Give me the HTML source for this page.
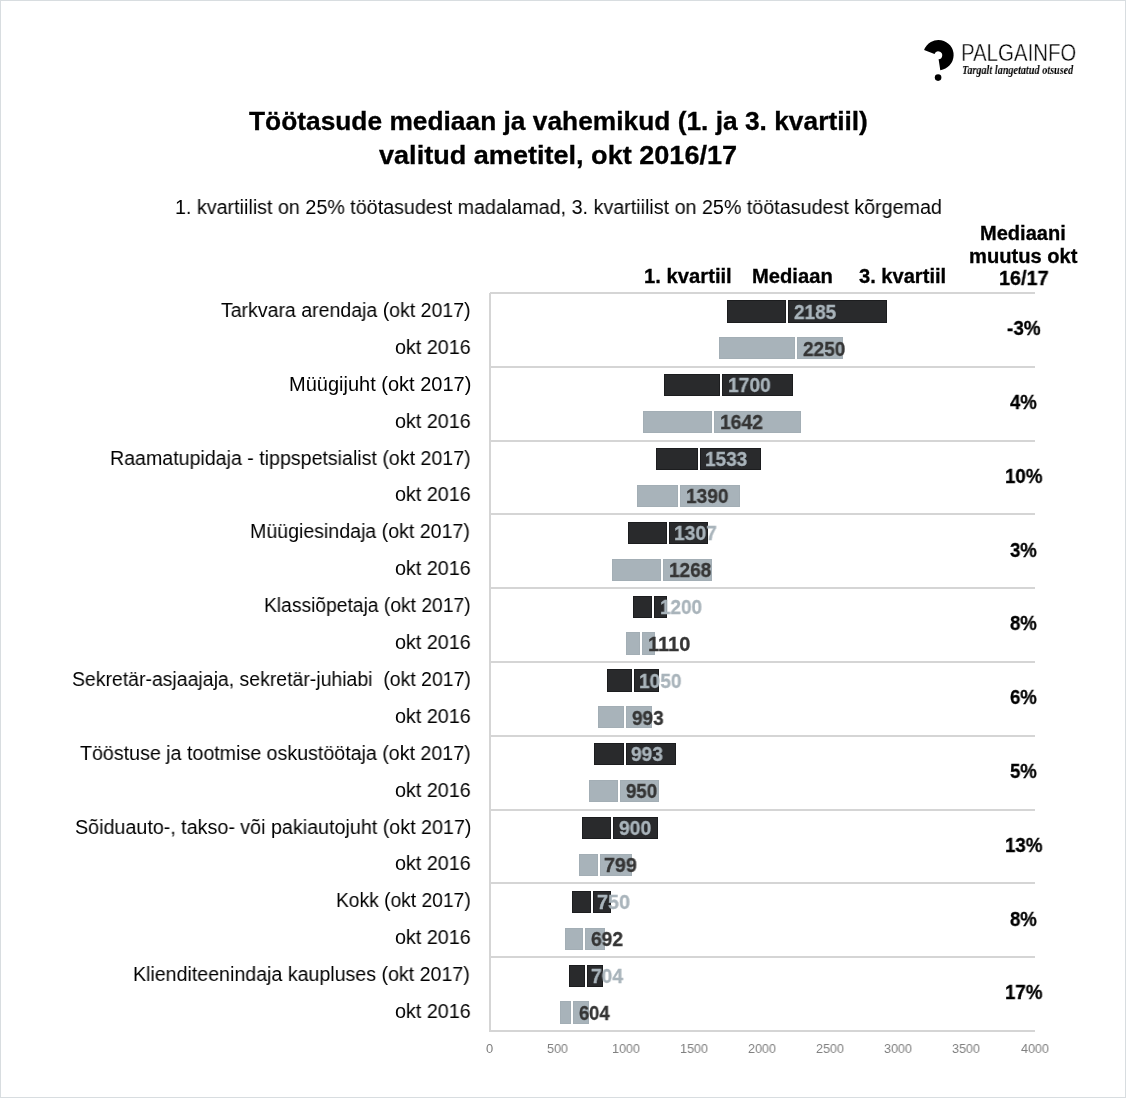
<!DOCTYPE html><html><head><meta charset="utf-8"><style>
html,body{margin:0;padding:0;background:#fff}
#pg{position:relative;width:1126px;height:1098px;overflow:hidden;background:#fff;font-family:'Liberation Sans', sans-serif;color:#000}
.t{position:absolute;white-space:pre;line-height:1;transform-origin:0 0;will-change:transform}
</style></head><body><div id="pg">
<div style="position:absolute;left:0;top:0;width:1124px;height:1096px;border:1px solid #d8dde0"></div>
<svg style="position:absolute;left:915px;top:35px" width="50" height="50" viewBox="0 0 50 50"><path d="M9.1 15.0 A15.2 15.2 0 1 1 25.3 35.2 L23.6 24.3 A4.0 4.0 0 1 0 19.5 18.9 Z" fill="#000"/><circle cx="23.1" cy="42.6" r="3.3" fill="#000"/></svg>
<svg style="position:absolute;left:0;top:0" width="1126" height="1098" viewBox="0 0 1126 1098" shape-rendering="crispEdges">
<rect x="490" y="292" width="545" height="2" fill="#d5d5d5"/>
<rect x="490" y="366" width="545" height="2" fill="#d5d5d5"/>
<rect x="490" y="440" width="545" height="2" fill="#d5d5d5"/>
<rect x="490" y="513" width="545" height="2" fill="#d5d5d5"/>
<rect x="490" y="587" width="545" height="2" fill="#d5d5d5"/>
<rect x="490" y="661" width="545" height="2" fill="#d5d5d5"/>
<rect x="490" y="735" width="545" height="2" fill="#d5d5d5"/>
<rect x="490" y="809" width="545" height="2" fill="#d5d5d5"/>
<rect x="490" y="882" width="545" height="2" fill="#d5d5d5"/>
<rect x="490" y="956" width="545" height="2" fill="#d5d5d5"/>
<rect x="490" y="1030" width="545" height="2" fill="#d5d5d5"/>
<rect x="489" y="293" width="2" height="739" fill="#d5d5d5"/>
<rect x="727" y="300" width="59" height="23" fill="#1c1d1f"/>
<rect x="728" y="301" width="57" height="21" fill="#292a2c"/>
<rect x="788" y="300" width="99" height="23" fill="#1c1d1f"/>
<rect x="789" y="301" width="97" height="21" fill="#292a2c"/>
<rect x="719" y="337" width="76" height="22" fill="#a3aeb5"/>
<rect x="720" y="338" width="74" height="20" fill="#a8b3ba"/>
<rect x="797" y="337" width="46" height="22" fill="#a3aeb5"/>
<rect x="798" y="338" width="44" height="20" fill="#a8b3ba"/>
<rect x="664" y="374" width="56" height="22" fill="#1c1d1f"/>
<rect x="665" y="375" width="54" height="20" fill="#292a2c"/>
<rect x="722" y="374" width="71" height="22" fill="#1c1d1f"/>
<rect x="723" y="375" width="69" height="20" fill="#292a2c"/>
<rect x="643" y="411" width="69" height="22" fill="#a3aeb5"/>
<rect x="644" y="412" width="67" height="20" fill="#a8b3ba"/>
<rect x="714" y="411" width="87" height="22" fill="#a3aeb5"/>
<rect x="715" y="412" width="85" height="20" fill="#a8b3ba"/>
<rect x="656" y="448" width="42" height="22" fill="#1c1d1f"/>
<rect x="657" y="449" width="40" height="20" fill="#292a2c"/>
<rect x="700" y="448" width="61" height="22" fill="#1c1d1f"/>
<rect x="701" y="449" width="59" height="20" fill="#292a2c"/>
<rect x="637" y="485" width="41" height="22" fill="#a3aeb5"/>
<rect x="638" y="486" width="39" height="20" fill="#a8b3ba"/>
<rect x="680" y="485" width="60" height="22" fill="#a3aeb5"/>
<rect x="681" y="486" width="58" height="20" fill="#a8b3ba"/>
<rect x="628" y="522" width="39" height="22" fill="#1c1d1f"/>
<rect x="629" y="523" width="37" height="20" fill="#292a2c"/>
<rect x="669" y="522" width="39" height="22" fill="#1c1d1f"/>
<rect x="670" y="523" width="37" height="20" fill="#292a2c"/>
<rect x="612" y="559" width="49" height="22" fill="#a3aeb5"/>
<rect x="613" y="560" width="47" height="20" fill="#a8b3ba"/>
<rect x="663" y="559" width="49" height="22" fill="#a3aeb5"/>
<rect x="664" y="560" width="47" height="20" fill="#a8b3ba"/>
<rect x="633" y="596" width="19" height="22" fill="#1c1d1f"/>
<rect x="634" y="597" width="17" height="20" fill="#292a2c"/>
<rect x="654" y="596" width="13" height="22" fill="#1c1d1f"/>
<rect x="655" y="597" width="11" height="20" fill="#292a2c"/>
<rect x="626" y="632" width="14" height="23" fill="#a3aeb5"/>
<rect x="627" y="633" width="12" height="21" fill="#a8b3ba"/>
<rect x="642" y="632" width="13" height="23" fill="#a3aeb5"/>
<rect x="643" y="633" width="11" height="21" fill="#a8b3ba"/>
<rect x="607" y="669" width="25" height="23" fill="#1c1d1f"/>
<rect x="608" y="670" width="23" height="21" fill="#292a2c"/>
<rect x="634" y="669" width="25" height="23" fill="#1c1d1f"/>
<rect x="635" y="670" width="23" height="21" fill="#292a2c"/>
<rect x="598" y="706" width="26" height="22" fill="#a3aeb5"/>
<rect x="599" y="707" width="24" height="20" fill="#a8b3ba"/>
<rect x="626" y="706" width="26" height="22" fill="#a3aeb5"/>
<rect x="627" y="707" width="24" height="20" fill="#a8b3ba"/>
<rect x="594" y="743" width="30" height="22" fill="#1c1d1f"/>
<rect x="595" y="744" width="28" height="20" fill="#292a2c"/>
<rect x="626" y="743" width="50" height="22" fill="#1c1d1f"/>
<rect x="627" y="744" width="48" height="20" fill="#292a2c"/>
<rect x="589" y="780" width="29" height="22" fill="#a3aeb5"/>
<rect x="590" y="781" width="27" height="20" fill="#a8b3ba"/>
<rect x="620" y="780" width="39" height="22" fill="#a3aeb5"/>
<rect x="621" y="781" width="37" height="20" fill="#a8b3ba"/>
<rect x="582" y="817" width="29" height="22" fill="#1c1d1f"/>
<rect x="583" y="818" width="27" height="20" fill="#292a2c"/>
<rect x="613" y="817" width="45" height="22" fill="#1c1d1f"/>
<rect x="614" y="818" width="43" height="20" fill="#292a2c"/>
<rect x="579" y="854" width="19" height="22" fill="#a3aeb5"/>
<rect x="580" y="855" width="17" height="20" fill="#a8b3ba"/>
<rect x="600" y="854" width="32" height="22" fill="#a3aeb5"/>
<rect x="601" y="855" width="30" height="20" fill="#a8b3ba"/>
<rect x="572" y="891" width="19" height="22" fill="#1c1d1f"/>
<rect x="573" y="892" width="17" height="20" fill="#292a2c"/>
<rect x="593" y="891" width="18" height="22" fill="#1c1d1f"/>
<rect x="594" y="892" width="16" height="20" fill="#292a2c"/>
<rect x="565" y="928" width="18" height="22" fill="#a3aeb5"/>
<rect x="566" y="929" width="16" height="20" fill="#a8b3ba"/>
<rect x="585" y="928" width="20" height="22" fill="#a3aeb5"/>
<rect x="586" y="929" width="18" height="20" fill="#a8b3ba"/>
<rect x="569" y="965" width="16" height="22" fill="#1c1d1f"/>
<rect x="570" y="966" width="14" height="20" fill="#292a2c"/>
<rect x="587" y="965" width="16" height="22" fill="#1c1d1f"/>
<rect x="588" y="966" width="14" height="20" fill="#292a2c"/>
<rect x="560" y="1001" width="11" height="23" fill="#a3aeb5"/>
<rect x="561" y="1002" width="9" height="21" fill="#a8b3ba"/>
<rect x="573" y="1001" width="16" height="23" fill="#a3aeb5"/>
<rect x="574" y="1002" width="14" height="21" fill="#a8b3ba"/>
</svg>
<div class="t" style="left:961.43px;top:41px;color:#000;font-size:24.5px;font-weight:400;-webkit-text-stroke:0.4px #fff;transform:scaleX(0.8333);">PALGAINFO</div>
<div class="t" style="left:962.08px;top:64px;color:#000;font-size:12.5px;font-weight:700;font-family:'Liberation Serif', serif;font-style:italic;transform:scaleX(0.8162);">Targalt langetatud otsused</div>
<div class="t" style="left:248.70px;top:109px;color:#000;font-size:25.9px;font-weight:700;-webkit-text-stroke:0.3px currentColor;transform:scaleX(1.0168);">Töötasude mediaan ja vahemikud (1. ja 3. kvartiil)</div>
<div class="t" style="left:379.00px;top:143px;color:#000;font-size:25.9px;font-weight:700;-webkit-text-stroke:0.3px currentColor;transform:scaleX(1.0456);">valitud ametitel, okt 2016/17</div>
<div class="t" style="left:174.76px;top:197px;color:#000;font-size:20.0px;font-weight:400;transform:scaleX(0.9855);">1. kvartiilist on 25% töötasudest madalamad, 3. kvartiilist on 25% töötasudest kõrgemad</div>
<div class="t" style="left:644.09px;top:266px;color:#000;font-size:20.0px;font-weight:700;-webkit-text-stroke:0.3px currentColor;transform:scaleX(1.0118);">1. kvartiil</div>
<div class="t" style="left:752.49px;top:266px;color:#000;font-size:20.0px;font-weight:700;-webkit-text-stroke:0.3px currentColor;transform:scaleX(1.0090);">Mediaan</div>
<div class="t" style="left:858.50px;top:266px;color:#000;font-size:20.0px;font-weight:700;-webkit-text-stroke:0.3px currentColor;transform:scaleX(1.0047);">3. kvartiil</div>
<div class="t" style="left:980.40px;top:223px;color:#000;font-size:20.0px;font-weight:700;-webkit-text-stroke:0.3px currentColor;transform:scaleX(1.0024);">Mediaani</div>
<div class="t" style="left:969.19px;top:246px;color:#000;font-size:20.0px;font-weight:700;-webkit-text-stroke:0.3px currentColor;transform:scaleX(1.0056);">muutus okt</div>
<div class="t" style="left:998.81px;top:268px;color:#000;font-size:20.0px;font-weight:700;-webkit-text-stroke:0.3px currentColor;transform:scaleX(0.9898);">16/17</div>
<div class="t" style="left:220.75px;top:300px;color:#000;font-size:20.0px;font-weight:400;transform:scaleX(0.9759);">Tarkvara arendaja (okt 2017)</div>
<div class="t" style="left:394.81px;top:337px;color:#000;font-size:20.0px;font-weight:400;transform:scaleX(0.9880);">okt 2016</div>
<div class="t" style="left:794.40px;top:302px;color:#a9b4bb;font-size:20.0px;font-weight:700;-webkit-text-stroke:0.3px currentColor;transform:scaleX(0.9500);">2185</div>
<div class="t" style="left:803.00px;top:339px;color:#353535;font-size:20.0px;font-weight:700;-webkit-text-stroke:0.3px currentColor;transform:scaleX(0.9545);">2250</div>
<div class="t" style="left:1007.00px;top:318px;color:#000;font-size:20.0px;font-weight:700;-webkit-text-stroke:0.3px currentColor;transform:scaleX(0.9457);">-3%</div>
<div class="t" style="left:289.00px;top:374px;color:#000;font-size:20.0px;font-weight:400;transform:scaleX(0.9978);">Müügijuht (okt 2017)</div>
<div class="t" style="left:394.81px;top:411px;color:#000;font-size:20.0px;font-weight:400;transform:scaleX(0.9880);">okt 2016</div>
<div class="t" style="left:727.74px;top:375px;color:#a9b4bb;font-size:20.0px;font-weight:700;-webkit-text-stroke:0.3px currentColor;transform:scaleX(0.9628);">1700</div>
<div class="t" style="left:719.93px;top:412px;color:#353535;font-size:20.0px;font-weight:700;-webkit-text-stroke:0.3px currentColor;transform:scaleX(0.9674);">1642</div>
<div class="t" style="left:1010.00px;top:392px;color:#000;font-size:20.0px;font-weight:700;-webkit-text-stroke:0.3px currentColor;transform:scaleX(0.9310);">4%</div>
<div class="t" style="left:109.94px;top:448px;color:#000;font-size:20.0px;font-weight:400;transform:scaleX(0.9800);">Raamatupidaja - tippspetsialist (okt 2017)</div>
<div class="t" style="left:394.81px;top:484px;color:#000;font-size:20.0px;font-weight:400;transform:scaleX(0.9880);">okt 2016</div>
<div class="t" style="left:704.95px;top:449px;color:#a9b4bb;font-size:20.0px;font-weight:700;-webkit-text-stroke:0.3px currentColor;transform:scaleX(0.9512);">1533</div>
<div class="t" style="left:685.84px;top:486px;color:#353535;font-size:20.0px;font-weight:700;-webkit-text-stroke:0.3px currentColor;transform:scaleX(0.9581);">1390</div>
<div class="t" style="left:1004.96px;top:466px;color:#000;font-size:20.0px;font-weight:700;-webkit-text-stroke:0.3px currentColor;transform:scaleX(0.9359);">10%</div>
<div class="t" style="left:250.34px;top:521px;color:#000;font-size:20.0px;font-weight:400;transform:scaleX(0.9788);">Müügiesindaja (okt 2017)</div>
<div class="t" style="left:394.81px;top:558px;color:#000;font-size:20.0px;font-weight:400;transform:scaleX(0.9880);">okt 2016</div>
<div class="t" style="left:674.33px;top:523px;color:#a9b4bb;font-size:20.0px;font-weight:700;-webkit-text-stroke:0.3px currentColor;transform:scaleX(0.9651);">1307</div>
<div class="t" style="left:669.35px;top:560px;color:#353535;font-size:20.0px;font-weight:700;-webkit-text-stroke:0.3px currentColor;transform:scaleX(0.9512);">1268</div>
<div class="t" style="left:1010.00px;top:540px;color:#000;font-size:20.0px;font-weight:700;-webkit-text-stroke:0.3px currentColor;transform:scaleX(0.9310);">3%</div>
<div class="t" style="left:263.57px;top:595px;color:#000;font-size:20.0px;font-weight:400;transform:scaleX(0.9627);">Klassiõpetaja (okt 2017)</div>
<div class="t" style="left:394.81px;top:632px;color:#000;font-size:20.0px;font-weight:400;transform:scaleX(0.9880);">okt 2016</div>
<div class="t" style="left:660.15px;top:597px;color:#a9b4bb;font-size:20.0px;font-weight:700;-webkit-text-stroke:0.3px currentColor;transform:scaleX(0.9465);">1200</div>
<div class="t" style="left:647.80px;top:634px;color:#353535;font-size:20.0px;font-weight:700;-webkit-text-stroke:0.3px currentColor;">1110</div>
<div class="t" style="left:1010.00px;top:613px;color:#000;font-size:20.0px;font-weight:700;-webkit-text-stroke:0.3px currentColor;transform:scaleX(0.9310);">8%</div>
<div class="t" style="left:71.93px;top:669px;color:#000;font-size:20.0px;font-weight:400;transform:scaleX(0.9723);">Sekretär-asjaajaja, sekretär-juhiabi  (okt 2017)</div>
<div class="t" style="left:394.81px;top:706px;color:#000;font-size:20.0px;font-weight:400;transform:scaleX(0.9880);">okt 2016</div>
<div class="t" style="left:639.44px;top:671px;color:#a9b4bb;font-size:20.0px;font-weight:700;-webkit-text-stroke:0.3px currentColor;transform:scaleX(0.9581);">1050</div>
<div class="t" style="left:631.80px;top:708px;color:#353535;font-size:20.0px;font-weight:700;-webkit-text-stroke:0.3px currentColor;transform:scaleX(0.9485);">993</div>
<div class="t" style="left:1010.00px;top:687px;color:#000;font-size:20.0px;font-weight:700;-webkit-text-stroke:0.3px currentColor;transform:scaleX(0.9310);">6%</div>
<div class="t" style="left:79.90px;top:743px;color:#000;font-size:20.0px;font-weight:400;transform:scaleX(0.9816);">Tööstuse ja tootmise oskustöötaja (okt 2017)</div>
<div class="t" style="left:394.81px;top:780px;color:#000;font-size:20.0px;font-weight:400;transform:scaleX(0.9880);">okt 2016</div>
<div class="t" style="left:631.40px;top:744px;color:#a9b4bb;font-size:20.0px;font-weight:700;-webkit-text-stroke:0.3px currentColor;transform:scaleX(0.9576);">993</div>
<div class="t" style="left:626.10px;top:781px;color:#353535;font-size:20.0px;font-weight:700;-webkit-text-stroke:0.3px currentColor;transform:scaleX(0.9333);">950</div>
<div class="t" style="left:1010.00px;top:761px;color:#000;font-size:20.0px;font-weight:700;-webkit-text-stroke:0.3px currentColor;transform:scaleX(0.9310);">5%</div>
<div class="t" style="left:74.61px;top:817px;color:#000;font-size:20.0px;font-weight:400;transform:scaleX(0.9850);">Sõiduauto-, takso- või pakiautojuht (okt 2017)</div>
<div class="t" style="left:394.81px;top:853px;color:#000;font-size:20.0px;font-weight:400;transform:scaleX(0.9880);">okt 2016</div>
<div class="t" style="left:619.00px;top:818px;color:#a9b4bb;font-size:20.0px;font-weight:700;-webkit-text-stroke:0.3px currentColor;transform:scaleX(0.9667);">900</div>
<div class="t" style="left:604.22px;top:855px;color:#353535;font-size:20.0px;font-weight:700;-webkit-text-stroke:0.3px currentColor;transform:scaleX(0.9844);">799</div>
<div class="t" style="left:1004.96px;top:835px;color:#000;font-size:20.0px;font-weight:700;-webkit-text-stroke:0.3px currentColor;transform:scaleX(0.9359);">13%</div>
<div class="t" style="left:335.98px;top:890px;color:#000;font-size:20.0px;font-weight:400;transform:scaleX(0.9613);">Kokk (okt 2017)</div>
<div class="t" style="left:394.81px;top:927px;color:#000;font-size:20.0px;font-weight:400;transform:scaleX(0.9880);">okt 2016</div>
<div class="t" style="left:597.31px;top:892px;color:#a9b4bb;font-size:20.0px;font-weight:700;-webkit-text-stroke:0.3px currentColor;transform:scaleX(0.9906);">750</div>
<div class="t" style="left:590.50px;top:929px;color:#353535;font-size:20.0px;font-weight:700;-webkit-text-stroke:0.3px currentColor;transform:scaleX(0.9606);">692</div>
<div class="t" style="left:1010.00px;top:909px;color:#000;font-size:20.0px;font-weight:700;-webkit-text-stroke:0.3px currentColor;transform:scaleX(0.9310);">8%</div>
<div class="t" style="left:133.44px;top:964px;color:#000;font-size:20.0px;font-weight:400;transform:scaleX(0.9801);">Klienditeenindaja kaupluses (okt 2017)</div>
<div class="t" style="left:394.81px;top:1001px;color:#000;font-size:20.0px;font-weight:400;transform:scaleX(0.9880);">okt 2016</div>
<div class="t" style="left:591.24px;top:966px;color:#a9b4bb;font-size:20.0px;font-weight:700;-webkit-text-stroke:0.3px currentColor;transform:scaleX(0.9606);">704</div>
<div class="t" style="left:578.70px;top:1003px;color:#353535;font-size:20.0px;font-weight:700;-webkit-text-stroke:0.3px currentColor;transform:scaleX(0.9176);">604</div>
<div class="t" style="left:1004.96px;top:982px;color:#000;font-size:20.0px;font-weight:700;-webkit-text-stroke:0.3px currentColor;transform:scaleX(0.9359);">17%</div>
<div class="t" style="left:486.09px;top:1043px;color:#808080;font-size:12.9px;font-weight:400;transform:scaleX(0.9741);">0</div>
<div class="t" style="left:546.91px;top:1043px;color:#808080;font-size:12.9px;font-weight:400;transform:scaleX(0.9741);">500</div>
<div class="t" style="left:611.63px;top:1043px;color:#808080;font-size:12.9px;font-weight:400;transform:scaleX(0.9741);">1000</div>
<div class="t" style="left:679.75px;top:1043px;color:#808080;font-size:12.9px;font-weight:400;transform:scaleX(0.9741);">1500</div>
<div class="t" style="left:747.88px;top:1043px;color:#808080;font-size:12.9px;font-weight:400;transform:scaleX(0.9741);">2000</div>
<div class="t" style="left:816.00px;top:1043px;color:#808080;font-size:12.9px;font-weight:400;transform:scaleX(0.9741);">2500</div>
<div class="t" style="left:884.13px;top:1043px;color:#808080;font-size:12.9px;font-weight:400;transform:scaleX(0.9741);">3000</div>
<div class="t" style="left:952.25px;top:1043px;color:#808080;font-size:12.9px;font-weight:400;transform:scaleX(0.9741);">3500</div>
<div class="t" style="left:1020.86px;top:1043px;color:#808080;font-size:12.9px;font-weight:400;transform:scaleX(0.9741);">4000</div>
</div></body></html>
